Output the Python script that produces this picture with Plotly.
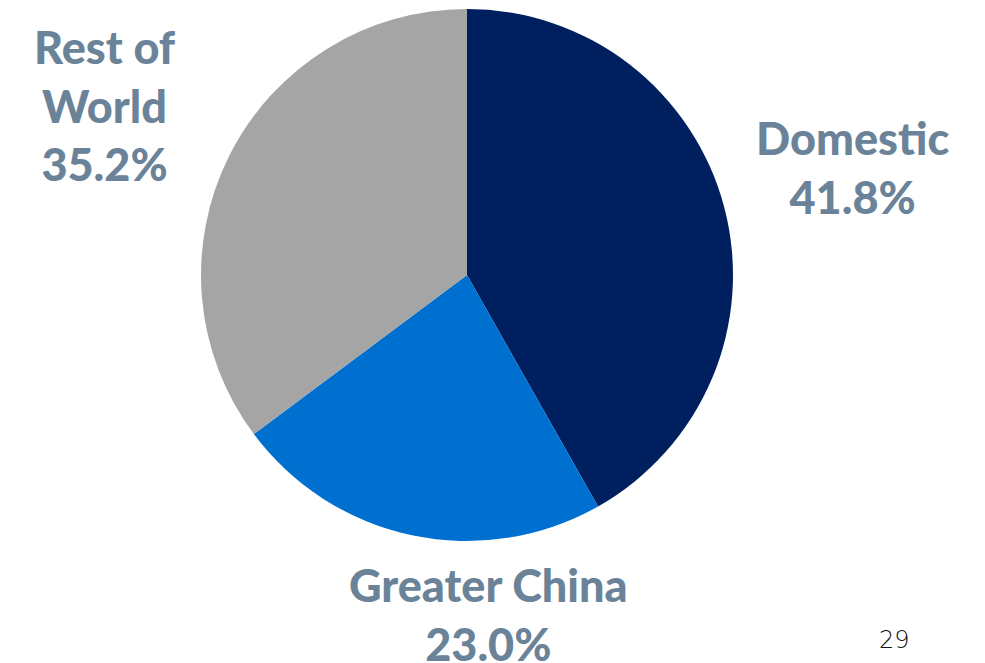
import plotly.graph_objects as go

# Revenue share by region
regions = ["Domestic", "Greater China", "Rest of World"]
shares = [41.8, 23.0, 35.2]
slice_colors = ["#001f5f", "#0070d0", "#a5a5a5"]

W, H = 985, 663
cx, cy, r = 467, 275, 266

fig = go.Figure(
    go.Pie(
        labels=regions,
        values=shares,
        sort=False,
        direction="clockwise",
        rotation=0,
        textinfo="none",
        hoverinfo="label+percent",
        marker=dict(colors=slice_colors, line=dict(width=0)),
        domain=dict(
            x=[(cx - r) / W, (cx + r) / W],
            y=[1 - (cy + r) / H, 1 - (cy - r) / H],
        ),
        showlegend=False,
    )
)

label_font = dict(family="Lato, sans-serif", size=45, weight=900, color="#6a8398")
label_pos = {
    "Domestic": (852, 167, ["Domestic"]),
    "Greater China": (488, 614, ["Greater China"]),
    "Rest of World": (105, 106, ["Rest of", "World"]),
}
for name, val in zip(regions, shares):
    x, y, lines = label_pos[name]
    text = "<br>".join(lines + [f"{val:.1f}%"])
    fig.add_annotation(
        x=x / W, y=1 - y / H, xref="paper", yref="paper",
        text=text, showarrow=False, font=label_font,
        xanchor="center", yanchor="middle", align="center",
    )

# Page number
fig.add_annotation(
    x=894.5 / W, y=1 - 639.5 / H, xref="paper", yref="paper",
    text="29", showarrow=False,
    font=dict(family="DejaVu Sans, sans-serif", size=24, weight=300, color="#111111"),
    xanchor="center", yanchor="middle",
)

fig.update_layout(
    width=W, height=H,
    margin=dict(l=0, r=0, t=0, b=0),
    paper_bgcolor="white", plot_bgcolor="white",
)

fig.write_html("out.html")
